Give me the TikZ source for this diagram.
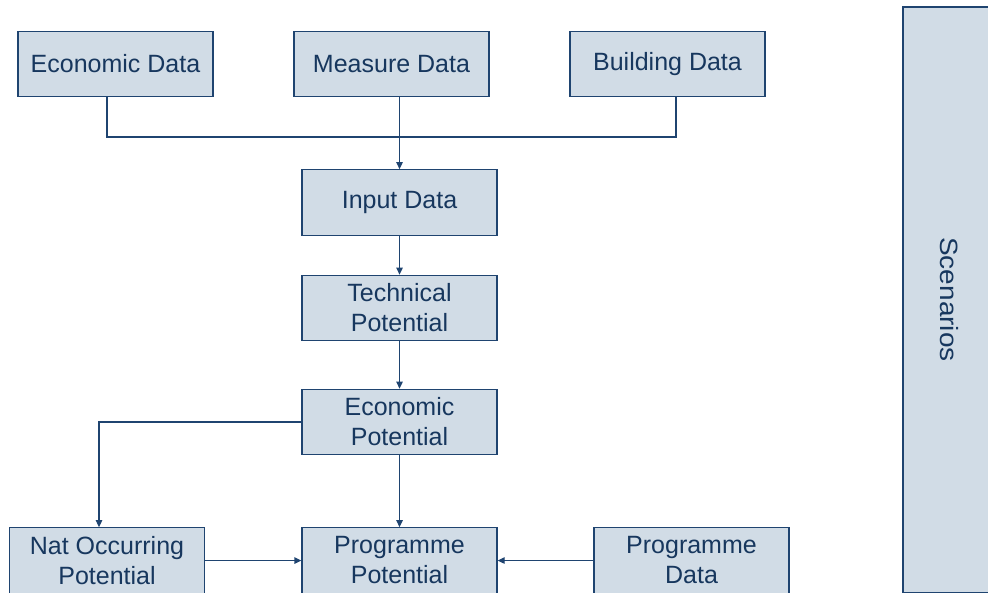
\documentclass[tikz,border=0pt]{standalone}
\usepackage{fontspec}
\setmainfont{Liberation Sans}
\usetikzlibrary{arrows.meta,calc}
\definecolor{boxfill}{HTML}{D1DCE6}
\definecolor{boxline}{HTML}{1F4470}
\definecolor{boxtext}{HTML}{17375E}
\begin{document}
\begin{tikzpicture}[x=1pt,y=-1pt,
  blk/.style={draw=boxline,fill=boxfill,line width=1.3pt,text=boxtext,
    minimum width=195pt,minimum height=65.5pt,inner sep=0pt,align=center,
    font=\fontsize{25}{30}\selectfont},
  conn/.style={draw=boxline,line width=1.3pt},
  arr/.style={conn,-{Triangle[length=7pt,width=6.5pt]}}]
\useasboundingbox (0,0) rectangle (988,592);
\begin{scope}
\clip (0,0) rectangle (988,592);
\node[blk,minimum width=98pt,minimum height=586pt] (scen) at (952,300) {};
\node[text=boxtext,rotate=-90,xscale=1.12,font=\fontsize{25}{30}\selectfont] (scentext) at (949,299.5) {Scenarios};
\node[blk] (econ) at (115.5,64) {Economic Data};
\node[blk] (meas) at (391.5,64) {Measure Data};
\node[blk] (bldg) at (667.5,64) {Building Data};
\node[blk] (input) at (399.5,202.5) {Input Data};
\node[blk] (tech) at (399.5,308) {Technical\\Potential};
\node[blk] (ecpot) at (399.5,422) {Economic\\Potential};
\node[blk] (nat) at (107,560.5) {Nat Occurring\\Potential};
\node[blk] (prog) at (399.5,560.5) {Programme\\Potential};
\node[blk] (pdata) at (691.5,560.5) {Programme\\Data};
\coordinate (busL) at (107,137);
\coordinate (busR) at (676,137);
\coordinate (natin) at (99,422);
\draw[conn] (econ.south -| busL) -- (busL) -- (busR) -- (bldg.south -| busR);
\draw[arr] (meas.south -| input.north) -- (input.north);
\draw[arr] (input) -- (tech);
\draw[arr] (tech) -- (ecpot);
\draw[arr] (ecpot.west) -- (natin) -- (nat.north -| natin);
\draw[arr] (ecpot) -- (prog);
\draw[arr] (nat) -- (prog);
\draw[arr] (pdata) -- (prog);
\end{scope}
\end{tikzpicture}
\end{document}
